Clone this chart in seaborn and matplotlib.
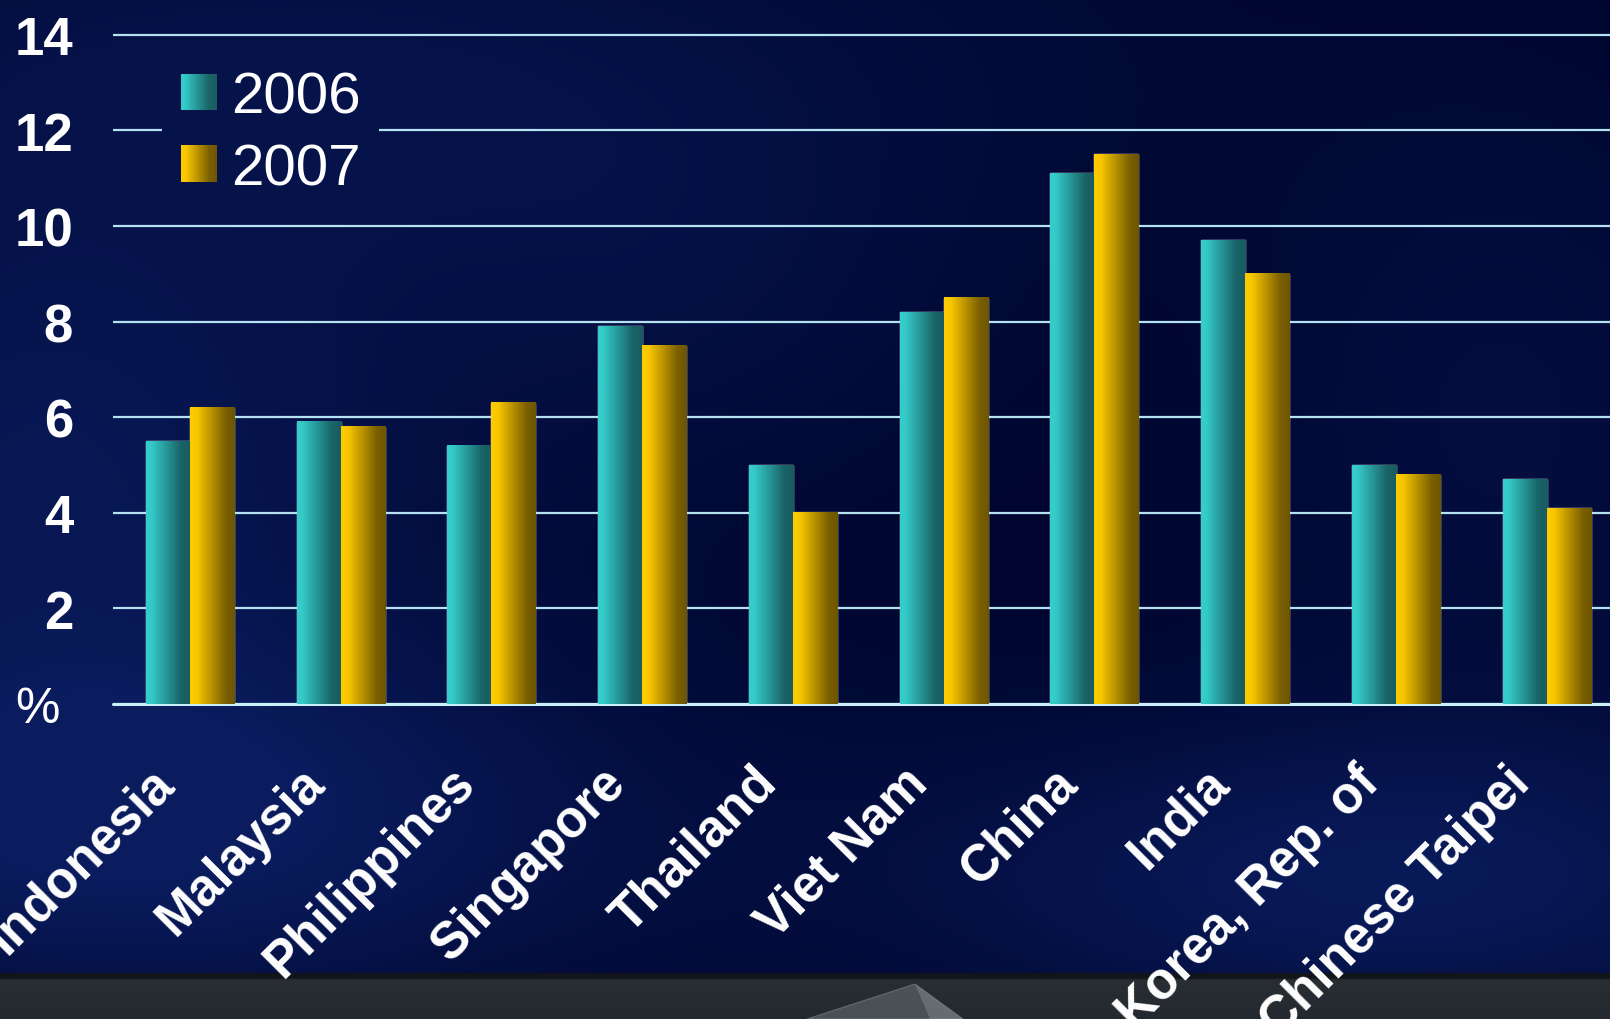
import numpy as np
import pandas as pd
import matplotlib
matplotlib.use("Agg")
import matplotlib.pyplot as plt
import seaborn as sns
from matplotlib.colors import LinearSegmentedColormap, to_hex
from matplotlib.legend_handler import HandlerBase
from matplotlib.patches import Rectangle, Polygon
from matplotlib.transforms import ScaledTranslation

# ---- data -------------------------------------------------------------
countries = ["Indonesia", "Malaysia", "Philippines", "Singapore", "Thailand",
             "Viet Nam", "China", "India", "Korea, Rep. of", "Chinese Taipei"]
growth_2006 = [5.5, 5.9, 5.4, 7.9, 5.0, 8.2, 11.1, 9.7, 5.0, 4.7]
growth_2007 = [6.2, 5.8, 6.3, 7.5, 4.0, 8.5, 11.5, 9.0, 4.8, 4.1]
years = ["2006", "2007"]
y_ticks = [0, 2, 4, 6, 8, 10, 12, 14]
y_tick_labels = ["%", "2", "4", "6", "8", "10", "12", "14"]

df = pd.DataFrame({
    "country": countries * 2,
    "year": [years[0]] * len(countries) + [years[1]] * len(countries),
    "growth": growth_2006 + growth_2007,
})

# ---- style ------------------------------------------------------------
sns.set_theme(style="dark")
plt.rcParams["font.family"] = ["Liberation Sans", "DejaVu Sans"]

W, H, DPI = 1610, 1020, 100
fig = plt.figure(figsize=(W / DPI, H / DPI), dpi=DPI)

# bar shading: light face on the left, darker toward the right edge
shade = {
    "2006": LinearSegmentedColormap.from_list(
        "teal", [(0, "#36cfcc"), (0.12, "#33c9c7"), (0.78, "#1a6468"), (1, "#185c60")]),
    "2007": LinearSegmentedColormap.from_list(
        "gold", [(0, "#ffcc00"), (0.15, "#f8c600"), (0.8, "#7a5f00"), (1, "#6e5600")]),
}
base_colors = {y: to_hex(shade[y](0.05)) for y in years}

# ---- background -------------------------------------------------------
gy, gx = np.mgrid[0:H:2, 0:W:2].astype(float)


def glow(cx, cy, sx, sy):
    return np.exp(-(((gx - cx) / sx) ** 2 + ((gy - cy) / sy) ** 2))


weight = (0.75 * glow(40, 470, 420, 320) + 0.9 * glow(150, 830, 500, 190)
          + 0.85 * glow(1380, 880, 480, 160) + 0.45 * glow(350, 60, 700, 200)
          + 0.35 * glow(1500, 420, 250, 300) + 0.3 * glow(700, 300, 300, 200))
weight = np.clip(weight, 0, 1)
base = np.array([0.0, 0.022, 0.18])
lift = np.array([0.04, 0.09, 0.19])
bg = base[None, None, :] + weight[..., None] * lift[None, None, :]

# grey strip along the bottom edge
strip = gy >= 978
t = np.clip((gy - 978) / 42.0, 0, 1)
strip_col = (np.array([0.16, 0.18, 0.20])[None, None, :] * (1 - t[..., None])
             + np.array([0.14, 0.16, 0.19])[None, None, :] * t[..., None])
bg = np.where(strip[..., None], strip_col, bg)
edge = (gy >= 973) & (gy < 979)
bg = np.where(edge[..., None], np.array([0.07, 0.08, 0.10])[None, None, :], bg)
bg = np.clip(bg, 0, 1)

bg_ax = fig.add_axes([0, 0, 1, 1], zorder=-10)
bg_ax.imshow(bg, extent=(0, W, H, 0), aspect="auto", interpolation="bilinear")
bg_ax.add_patch(Polygon([(807, 1020), (915, 985), (963, 1020)], closed=True,
                        facecolor="#7a8086", edgecolor="#959aa0", lw=0.8, alpha=0.45))
bg_ax.add_patch(Polygon([(915, 985), (963, 1020), (930, 1020)], closed=True,
                        facecolor="#9aa0a6", edgecolor="none", alpha=0.35))
bg_ax.set_xlim(0, W)
bg_ax.set_ylim(H, 0)
bg_ax.axis("off")

# ---- main chart -------------------------------------------------------
px_per_unit = 47.8
y_top = 14.06
ax_left, ax_base = 113, 705
ax_h = y_top * px_per_unit
ax = fig.add_axes([ax_left / W, (H - ax_base) / H, 1 - ax_left / W, ax_h / H])
ax.set_facecolor("none")

sns.barplot(data=df, x="country", y="growth", hue="year", order=countries,
            hue_order=years, palette=[base_colors[y] for y in years],
            width=0.584, gap=0, saturation=1, legend=False, ax=ax, zorder=3)

# horizontal shading painted over each bar drawn by seaborn
ramp = np.linspace(0, 1, 64)[None, :]
for patch, year in zip(list(ax.patches), [y for y in years for _ in countries]):
    x0, w = patch.get_x(), patch.get_width()
    y0, h = patch.get_y(), patch.get_height()
    ax.imshow(ramp, cmap=shade[year], extent=(x0, x0 + w, y0, y0 + h),
              aspect="auto", interpolation="bilinear", zorder=4)

ax.set_xlim(-0.51, 9.42)
ax.set_ylim(0, y_top)

grid_col = "#b4e2f0"
ax.yaxis.grid(True, color=grid_col, linewidth=1.6, zorder=1)
ax.xaxis.grid(False)
ax.set_axisbelow(True)
ax.axhline(0, color="#c8f0fa", linewidth=2.2, zorder=2, clip_on=False)
for s in ax.spines.values():
    s.set_visible(False)

ax.set_yticks(y_ticks)
ax.set_yticklabels(y_tick_labels)
ax.tick_params(axis="y", length=0, pad=28.8, labelsize=38, labelcolor="white")
for lab in ax.get_yticklabels():
    if lab.get_text() == "%":
        lab.set_fontweight("normal")
        lab.set_fontsize(36)
        lab.set_transform(lab.get_transform()
                          + ScaledTranslation(-13 / DPI, 0, fig.dpi_scale_trans))
    else:
        lab.set_fontweight("bold")

ax.set_xticks(range(len(countries)))
ax.set_xticklabels(countries, rotation=45, ha="right", va="center",
                   rotation_mode="anchor", fontsize=37, fontweight="bold",
                   color="white")
ax.tick_params(axis="x", length=0, pad=54)
label_shift = ScaledTranslation(-24 / DPI, 4 / DPI, fig.dpi_scale_trans)
for lab in ax.get_xticklabels():
    lab.set_transform(lab.get_transform() + label_shift)
ax.set_xlabel("")
ax.set_ylabel("")


# ---- legend with shaded swatches ---------------------------------------
class ShadedSwatch(HandlerBase):
    def create_artists(self, legend, orig_handle, xdescent, ydescent,
                       width, height, fontsize, trans):
        cmap = shade[orig_handle.get_label()]
        n = 24
        side = height
        x_start = -xdescent
        parts = []
        for i in range(n):
            parts.append(Rectangle((x_start + side * i / n, -ydescent),
                                   side / n * 1.05, side,
                                   facecolor=cmap((i + 0.5) / n),
                                   edgecolor="none", transform=trans))
        return parts


handles = [Rectangle((0, 0), 1, 1, label=y) for y in years]
legend_bg = to_hex(bg[131 // 2, 266 // 2])
leg = ax.legend(handles=handles, labels=years,
                handler_map={Rectangle: ShadedSwatch()},
                loc="upper left", bbox_to_anchor=(162 / W, 1 - 53 / H),
                bbox_transform=fig.transFigure, borderaxespad=0,
                fontsize=42, handlelength=0.58, handleheight=0.58,
                handletextpad=0.28, labelspacing=0.3, borderpad=0.32,
                frameon=True, fancybox=False, framealpha=1,
                facecolor=legend_bg, edgecolor="none")
leg.set_zorder(5)
for txt in leg.get_texts():
    txt.set_color("white")

fig.savefig("out.png", dpi=DPI)
